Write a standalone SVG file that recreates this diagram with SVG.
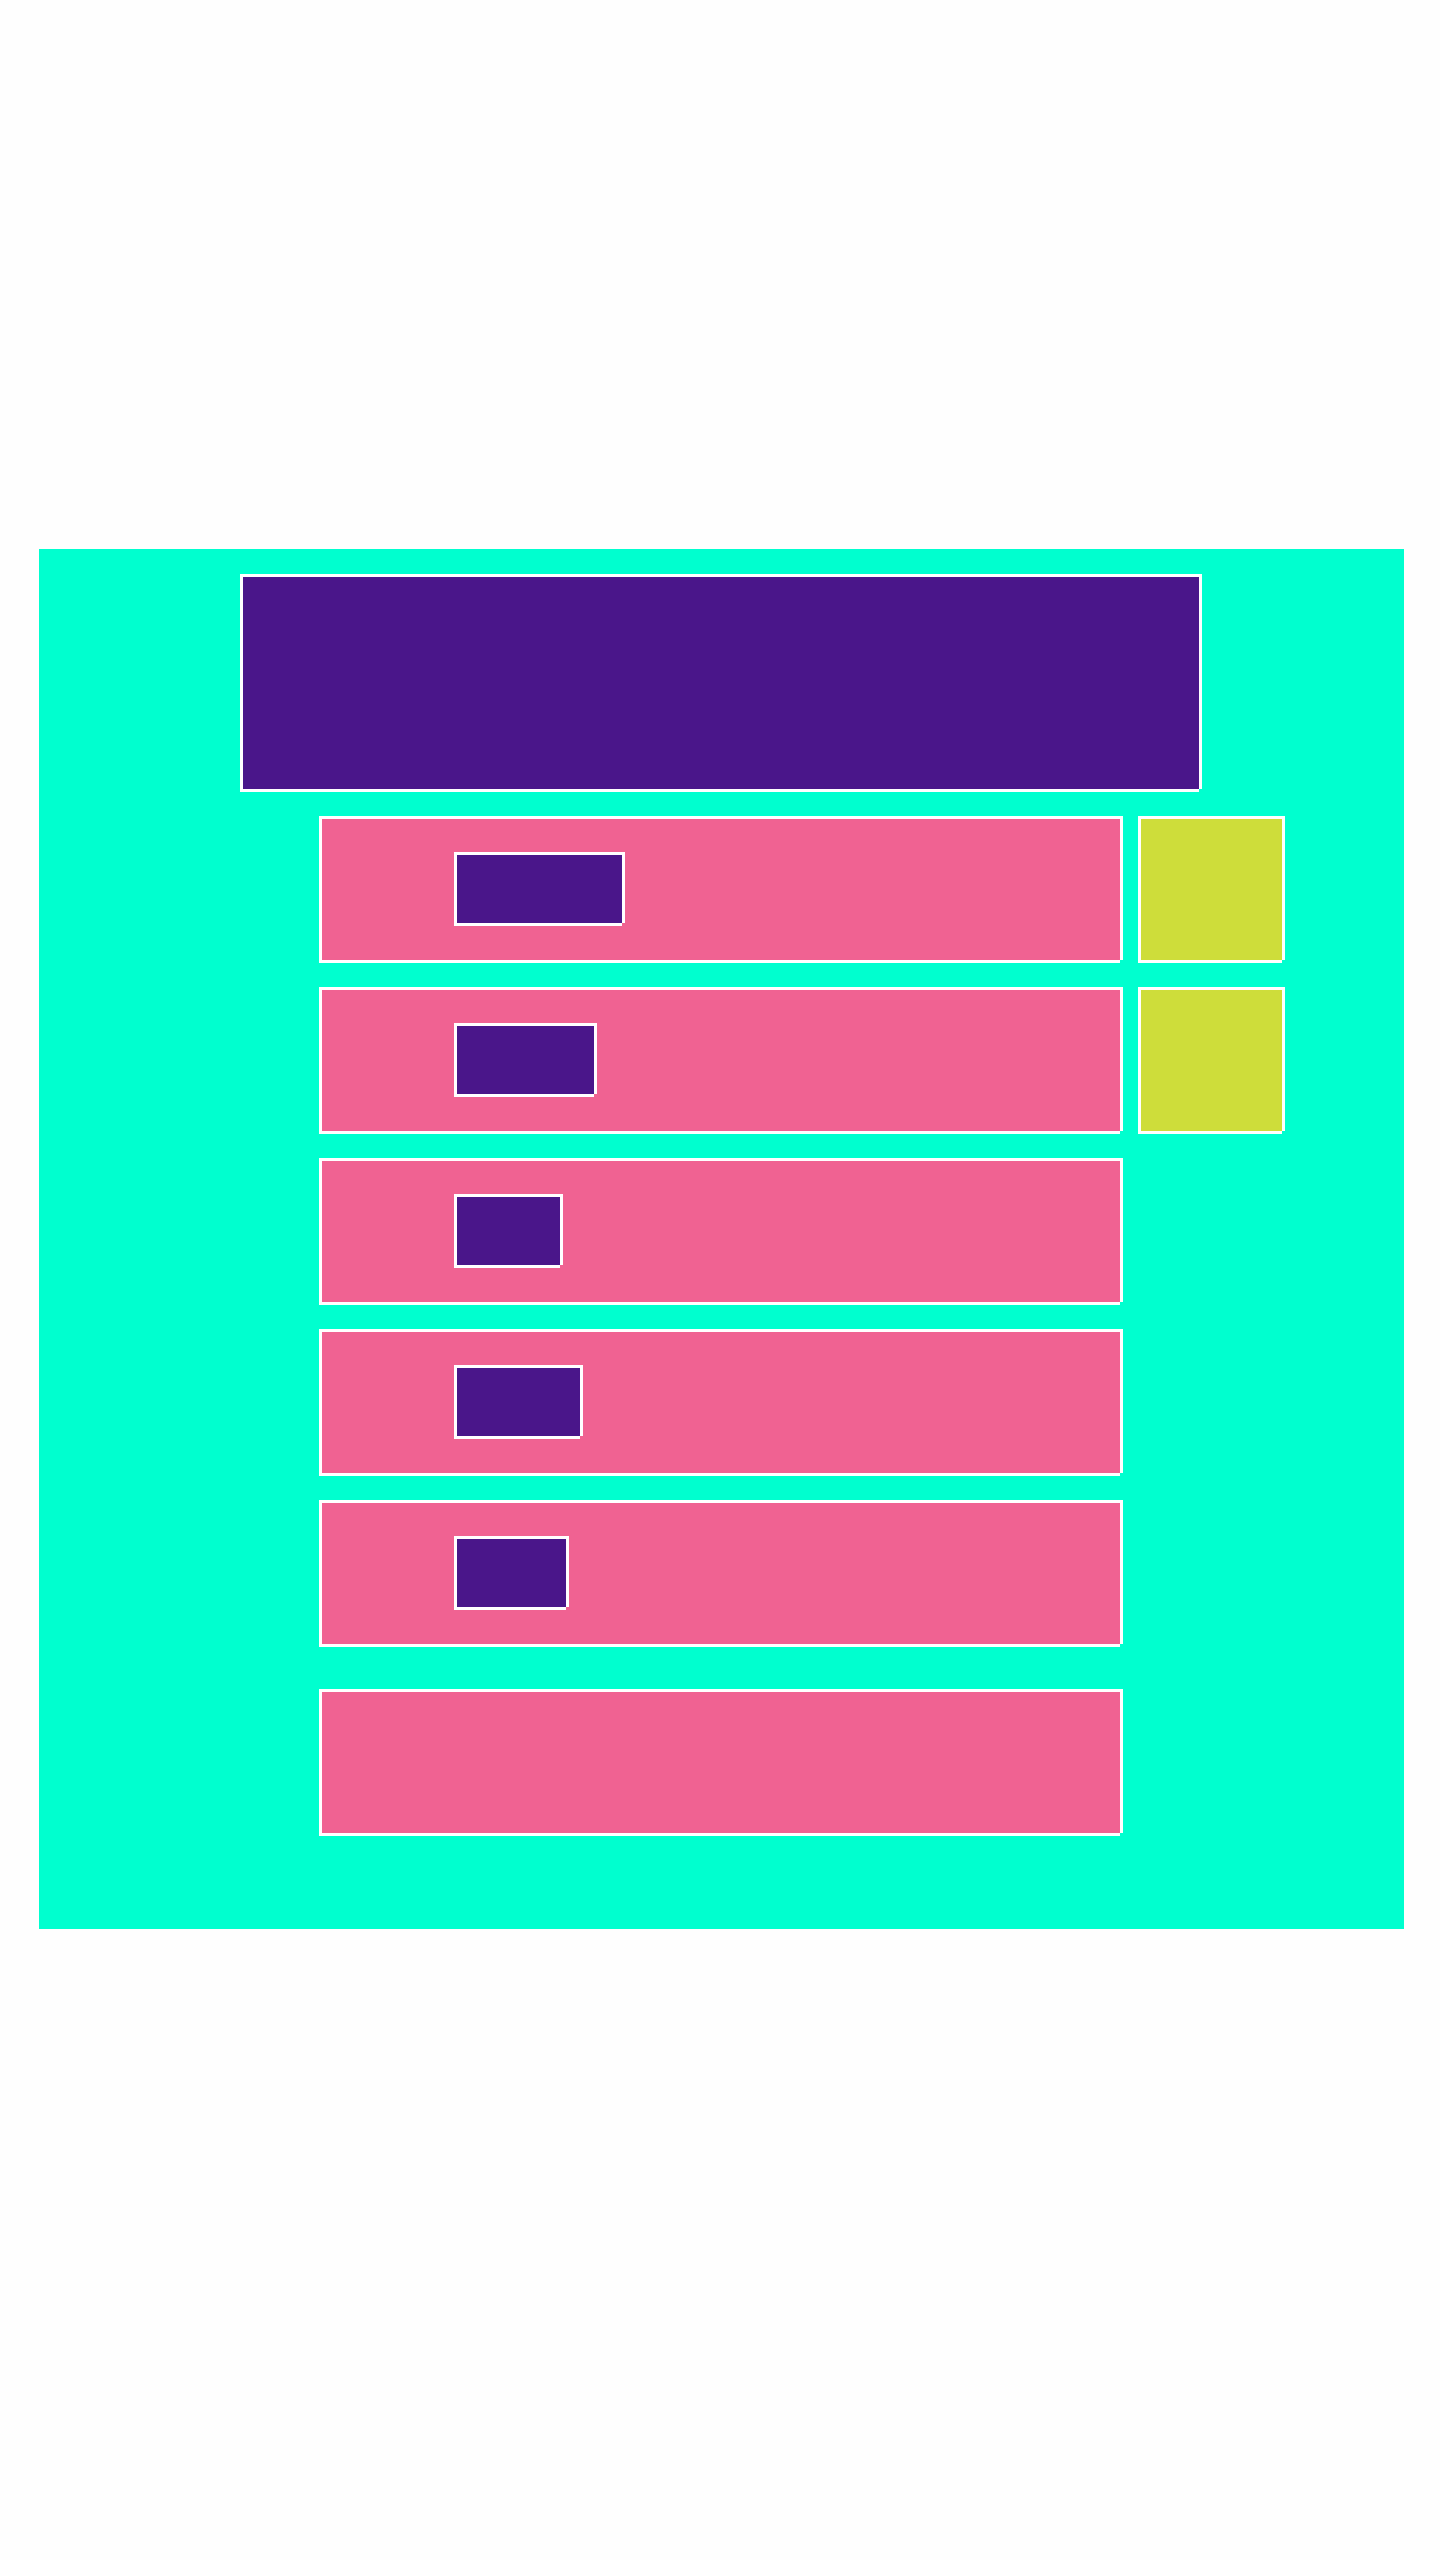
<svg xmlns="http://www.w3.org/2000/svg" width="1440" height="2560" viewBox="0 0 1440 2560">
<style>
.bd{fill:none;stroke:#ffffff;stroke-width:3;stroke-linecap:butt}
.pu{fill:#4a168a}
.pk{fill:#f06292}
.ye{fill:#cedd3a}
</style>
<rect x="0" y="0" width="1440" height="2560" fill="#fefefe"/>
<rect id="container" x="39" y="549" width="1365" height="1380" fill="#00ffcf"/>
<g id="header">
<rect class="pu" x="243" y="577" width="956" height="212"/>
<path class="bd" d="M240 575.5H1202M1200.5 574V789M240 790.5H1199M241.5 574V792"/>
</g>
<g id="row1">
<rect class="pk" x="322" y="819" width="798" height="141"/>
<path class="bd" d="M319 817.5H1123M1121.5 816V960M319 961.5H1120M320.5 816V963"/>
</g>
<g id="row1-tag">
<rect class="pu" x="457" y="855" width="165" height="68"/>
<path class="bd" d="M454 853.5H625M623.5 852V923M454 924.5H622M455.5 852V926"/>
</g>
<g id="row1-side">
<rect class="ye" x="1141" y="819" width="141" height="141"/>
<path class="bd" d="M1138 817.5H1285M1283.5 816V960M1138 961.5H1282M1139.5 816V963"/>
</g>
<g id="row2">
<rect class="pk" x="322" y="990" width="798" height="141"/>
<path class="bd" d="M319 988.5H1123M1121.5 987V1131M319 1132.5H1120M320.5 987V1134"/>
</g>
<g id="row2-tag">
<rect class="pu" x="457" y="1026" width="137" height="68"/>
<path class="bd" d="M454 1024.5H597M595.5 1023V1094M454 1095.5H594M455.5 1023V1097"/>
</g>
<g id="row2-side">
<rect class="ye" x="1141" y="990" width="141" height="141"/>
<path class="bd" d="M1138 988.5H1285M1283.5 987V1131M1138 1132.5H1282M1139.5 987V1134"/>
</g>
<g id="row3">
<rect class="pk" x="322" y="1161" width="798" height="141"/>
<path class="bd" d="M319 1159.5H1123M1121.5 1158V1302M319 1303.5H1120M320.5 1158V1305"/>
</g>
<g id="row3-tag">
<rect class="pu" x="457" y="1197" width="103" height="68"/>
<path class="bd" d="M454 1195.5H563M561.5 1194V1265M454 1266.5H560M455.5 1194V1268"/>
</g>
<g id="row4">
<rect class="pk" x="322" y="1332" width="798" height="141"/>
<path class="bd" d="M319 1330.5H1123M1121.5 1329V1473M319 1474.5H1120M320.5 1329V1476"/>
</g>
<g id="row4-tag">
<rect class="pu" x="457" y="1368" width="123" height="68"/>
<path class="bd" d="M454 1366.5H583M581.5 1365V1436M454 1437.5H580M455.5 1365V1439"/>
</g>
<g id="row5">
<rect class="pk" x="322" y="1503" width="798" height="141"/>
<path class="bd" d="M319 1501.5H1123M1121.5 1500V1644M319 1645.5H1120M320.5 1500V1647"/>
</g>
<g id="row5-tag">
<rect class="pu" x="457" y="1539" width="109" height="68"/>
<path class="bd" d="M454 1537.5H569M567.5 1536V1607M454 1608.5H566M455.5 1536V1610"/>
</g>
<g id="row6">
<rect class="pk" x="322" y="1692" width="798" height="141"/>
<path class="bd" d="M319 1690.5H1123M1121.5 1689V1833M319 1834.5H1120M320.5 1689V1836"/>
</g>
<g id="connectors"></g>
</svg>
